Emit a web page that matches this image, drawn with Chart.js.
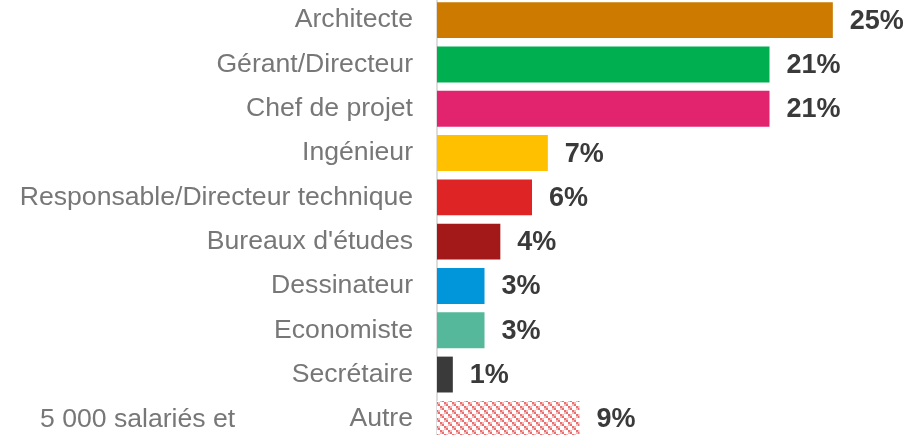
<!DOCTYPE html>
<html>
<head>
<meta charset="utf-8">
<script src="https://cdn.jsdelivr.net/npm/chart.js@4/dist/chart.umd.min.js"></script>
<style>
  html, body { margin: 0; padding: 0; background: #fff; overflow: hidden; width: 922px; height: 435px; }
  #wrap { position: absolute; left: 0; top: -2px; width: 922px; height: 443px; }
</style>
</head>
<body>
<div id="wrap"><canvas id="c"></canvas></div>
<script>
const categories = ["Architecte", "Gérant/Directeur", "Chef de projet", "Ingénieur",
  "Responsable/Directeur technique", "Bureaux d'études", "Dessinateur", "Economiste",
  "Secrétaire", "Autre"];
const values = [25, 21, 21, 7, 6, 4, 3, 3, 1, 9];
const valueLabels = ["25%", "21%", "21%", "7%", "6%", "4%", "3%", "3%", "1%", "9%"];
const barColors = ["#cc7a00", "#00b050", "#e2246e", "#ffc000", "#de2424", "#a31818",
  "#0096d9", "#55b89a", "#3a3a3a", null];
const strayText = "5 000 salariés et";
const FONT = "'Liberation Sans', Arial, Helvetica, sans-serif";

function makePattern() {
  const p = document.createElement('canvas');
  p.width = 8; p.height = 8;
  const g = p.getContext('2d');
  g.fillStyle = '#ffffff'; g.fillRect(0, 0, 8, 8);
  g.fillStyle = '#f7baba';
  g.fillRect(2, 0, 2, 2); g.fillRect(0, 2, 2, 2); g.fillRect(6, 4, 2, 2); g.fillRect(4, 6, 2, 2);
  g.fillStyle = '#ec6f6f';
  g.fillRect(0, 0, 2, 2); g.fillRect(4, 4, 2, 2); g.fillRect(2, 2, 2, 2); g.fillRect(6, 6, 2, 2);
  return document.getElementById('c').getContext('2d').createPattern(p, 'repeat');
}
const bg = barColors.map(c => c === null ? makePattern() : c);

const labelPlugin = {
  id: 'labels',
  afterDatasetsDraw(chart) {
    const ctx = chart.ctx;
    const meta = chart.getDatasetMeta(0);
    ctx.save();
    ctx.font = "bold 27px " + FONT;
    ctx.fillStyle = '#3a3a3a';
    ctx.textBaseline = 'middle';
    ctx.textAlign = 'left';
    meta.data.forEach((bar, i) => {
      ctx.fillText(valueLabels[i], bar.x + 17, bar.y + 1);
    });
    const last = meta.data[meta.data.length - 1];
    ctx.font = "26.6px " + FONT;
    ctx.fillStyle = '#777777';
    ctx.fillText(strayText, 40, last.y + 1);
    ctx.restore();
  }
};

new Chart(document.getElementById('c'), {
  type: 'bar',
  data: {
    labels: categories,
    datasets: [{
      data: values,
      backgroundColor: bg,
      borderWidth: 0,
      barPercentage: 0.81,
      categoryPercentage: 1
    }]
  },
  options: {
    indexAxis: 'y',
    responsive: true,
    maintainAspectRatio: false,
    animation: false,
    layout: { padding: { left: 0, right: 10, top: 0, bottom: 0 } },
    plugins: { legend: { display: false }, tooltip: { enabled: false } },
    scales: {
      x: { display: false, min: 0, max: 30 },
      y: {
        afterFit(scale) { scale.width = 437; scale.paddingTop = 0; scale.paddingBottom = 0; },
        grid: { display: false, drawTicks: false, tickLength: 0 },
        border: { display: true, color: '#dddddd', width: 2 },
        ticks: {
          color: '#777777',
          padding: 24,
          font: { family: FONT, size: 26.6 }
        }
      }
    }
  },
  plugins: [labelPlugin]
});
</script>
</body>
</html>
